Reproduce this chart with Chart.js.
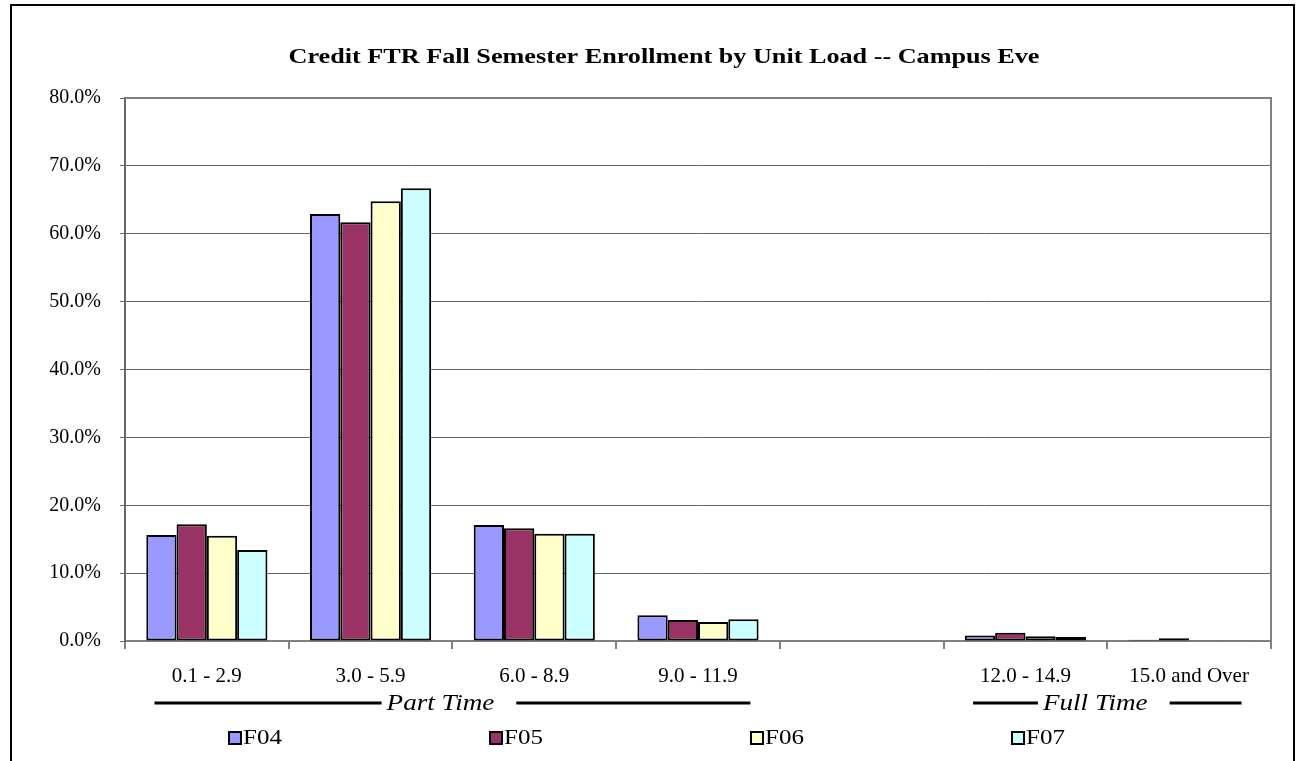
<!DOCTYPE html>
<html>
<head>
<meta charset="utf-8">
<script src="https://cdn.jsdelivr.net/npm/chart.js@4/dist/chart.umd.min.js"></script>
<style>
  html, body { margin: 0; padding: 0; background: #fff; }
  #wrap { width: 1301px; height: 761px; position: relative; }
</style>
</head>
<body>
<div id="wrap"><canvas id="c" width="1301" height="761"></canvas></div>
<script>
const chartTitle = 'Credit FTR Fall Semester Enrollment by Unit Load -- Campus Eve';
const categories = ['0.1 - 2.9', '3.0 - 5.9', '6.0 - 8.9', '9.0 - 11.9', '', '12.0 - 14.9', '15.0 and Over'];
const seriesNames = ['F04', 'F05', 'F06', 'F07'];
const f04 = [15.6, 62.9, 17.1, 3.8, null, 0.8, 0.2];
const f05 = [17.2, 61.7, 16.6, 3.1, null, 1.2, 0.4];
const f06 = [15.5, 64.8, 15.8, 2.8, null, 0.7, 0.1];
const f07 = [13.4, 66.7, 15.8, 3.2, null, 0.6, 0.1];
const seriesColors = ['#9999FF', '#993366', '#FFFFCC', '#CCFFFF'];
const yTicks = [0, 10, 20, 30, 40, 50, 60, 70, 80];
const groups = [
  { label: 'Part Time', from: 0, to: 3 },
  { label: 'Full Time', from: 5, to: 6 }
];

const SERIF = '"Liberation Serif", "Times New Roman", serif';

function stretchText(ctx, text, x, y, align, sx) {
  const w = ctx.measureText(text).width * sx;
  let left = x;
  if (align === 'center') left = x - w / 2;
  ctx.save();
  ctx.textAlign = 'left';
  ctx.translate(left, y);
  ctx.scale(sx, 1);
  ctx.fillText(text, 0, 0);
  ctx.restore();
  return w;
}

const decorPlugin = {
  id: 'decor',
  beforeDraw(chart) {
    const ctx = chart.ctx;
    ctx.save();
    ctx.fillStyle = '#fff';
    ctx.fillRect(0, 0, chart.width, chart.height);
    ctx.restore();
  },
  afterDraw(chart) {
    const ctx = chart.ctx;
    const ca = chart.chartArea;
    const xs = chart.scales.x;
    ctx.save();
    // outer frame
    ctx.strokeStyle = '#000';
    ctx.lineWidth = 2;
    ctx.beginPath();
    ctx.moveTo(11, 780);
    ctx.lineTo(11, 5);
    ctx.lineTo(1294, 5);
    ctx.lineTo(1294, 780);
    ctx.stroke();
    // plot area frame top/right
    ctx.strokeStyle = '#808080';
    ctx.lineWidth = 2;
    ctx.beginPath();
    ctx.moveTo(ca.left, ca.top);
    ctx.lineTo(ca.right, ca.top);
    ctx.lineTo(ca.right, ca.bottom);
    ctx.stroke();
    // title
    ctx.fillStyle = '#000';
    ctx.font = 'bold 22px ' + SERIF;
    ctx.textBaseline = 'middle';
    stretchText(ctx, chartTitle, 664, 57, 'center', 1.19);
    // group labels
    const catW = (ca.right - ca.left) / categories.length;
    ctx.font = 'italic 24px ' + SERIF;
    const gsx = 1.13;
    groups.forEach(g => {
      const x0 = xs.getPixelForValue(g.from) - 0.32 * catW;
      const x1 = xs.getPixelForValue(g.to) + 0.32 * catW;
      const mid = (x0 + x1) / 2 - 12;
      const tw = ctx.measureText(g.label).width * gsx;
      const y = 703;
      ctx.strokeStyle = '#000';
      ctx.lineWidth = 3;
      ctx.beginPath();
      ctx.moveTo(x0, y);
      ctx.lineTo(mid - tw / 2 - 5, y);
      ctx.moveTo(mid + tw / 2 + 22, y);
      ctx.lineTo(x1, y);
      ctx.stroke();
      ctx.fillStyle = '#000';
      stretchText(ctx, g.label, mid, y + 1, 'center', gsx);
    });
    // legend
    ctx.font = '20px ' + SERIF;
    chart.data.datasets.forEach((ds, i) => {
      const x = 229 + i * 261;
      const y = 738;
      ctx.fillStyle = ds.backgroundColor;
      ctx.fillRect(x, y - 6, 12, 12);
      ctx.strokeStyle = '#000';
      ctx.lineWidth = 2;
      ctx.strokeRect(x, y - 6, 12, 12);
      ctx.fillStyle = '#000';
      stretchText(ctx, ds.label, x + 14, y + 1, 'left', 1.25);
    });
    ctx.restore();
  }
};

const allSeries = [f04, f05, f06, f07];
new Chart(document.getElementById('c'), {
  type: 'bar',
  data: {
    labels: categories,
    datasets: allSeries.map((d, i) => ({
      label: seriesNames[i],
      data: d,
      backgroundColor: seriesColors[i],
      borderColor: '#000',
      borderWidth: 2,
      borderSkipped: false,
      categoryPercentage: 0.74,
      barPercentage: 1.0
    }))
  },
  options: {
    responsive: false,
    animation: false,
    layout: { padding: { top: 98, right: 30, left: 0, bottom: 0 } },
    plugins: { legend: { display: false }, title: { display: false }, tooltip: { enabled: false } },
    scales: {
      x: {
        grid: { display: true, offset: true, drawOnChartArea: false, drawTicks: true, tickLength: 8, color: '#808080', lineWidth: 2 },
        border: { display: true, color: '#808080', width: 2 },
        ticks: { padding: 15, color: '#000', font: { family: SERIF, size: 21 }, maxRotation: 0, autoSkip: false },
        afterFit(s) { s.height = 120; }
      },
      y: {
        min: 0, max: 80,
        afterBuildTicks(s) { s.ticks = yTicks.map(v => ({ value: v })); },
        grid: { color: '#666', lineWidth: 1, tickLength: 5, drawTicks: true },
        border: { display: true, color: '#666', width: 2 },
        ticks: { padding: 19, color: '#000', font: { family: SERIF, size: 20 }, callback: v => v.toFixed(1) + '%' },
        afterFit(s) { s.width = 125; }
      }
    }
  },
  plugins: [decorPlugin]
});
</script>
</body>
</html>
